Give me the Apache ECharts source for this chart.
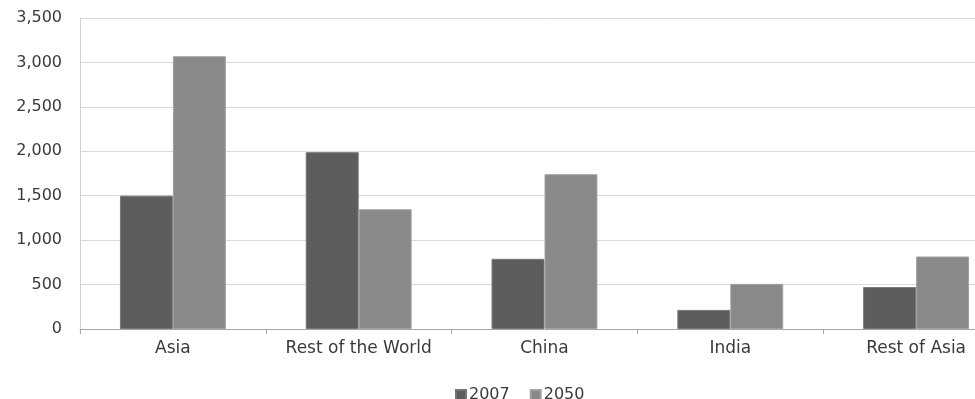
<!DOCTYPE html>
<html>
<head>
<meta charset="utf-8">
<script src="https://cdn.jsdelivr.net/npm/echarts@6/dist/echarts.min.js"></script>
<style>
  html, body { margin: 0; padding: 0; background: #fff; overflow: hidden; }
  /* plot runs past the right edge of the window, as in the reference crop */
  #chart { width: 1009px; height: 399px; }
</style>
</head>
<body>
<div id="chart"></div>
<script>
  const categories = ['Asia', 'Rest of the World', 'China', 'India', 'Rest of Asia'];
  const values2007 = [1500, 1990, 790, 215, 472];
  const values2050 = [3070, 1348, 1742, 508, 816];
  const seriesNames = ['2007', '2050'];

  const chart = echarts.init(document.getElementById('chart'));
  const option = {
    animation: false,
    textStyle: { fontFamily: 'DejaVu Sans', color: '#3a3a3a' },
    grid: { left: 80, right: 0, top: 18, bottom: 70 },
    legend: {
      data: seriesNames,
      left: 450,
      top: 382,
      icon: 'rect',
      itemWidth: 10,
      itemHeight: 10,
      itemGap: 20,
      textStyle: { fontSize: 16, color: '#3a3a3a', padding: [0, 0, 0, -2] }
    },
    xAxis: {
      type: 'category',
      data: categories,
      axisLine: { lineStyle: { color: '#a6a6a6', width: 1 } },
      axisTick: { show: true, interval: 0, length: 5, lineStyle: { color: '#a6a6a6' } },
      axisLabel: { interval: 0, fontSize: 17, color: '#3a3a3a', margin: 11 }
    },
    yAxis: {
      type: 'value',
      min: 0,
      max: 3500,
      interval: 500,
      axisLine: { show: true, lineStyle: { color: '#d0d0d0' } },
      axisTick: { show: false },
      splitLine: { lineStyle: { color: '#d9d9d9', width: 1 } },
      axisLabel: {
        fontSize: 16,
        color: '#3a3a3a',
        margin: 18,
        formatter: v => v.toLocaleString('en-US')
      }
    },
    series: [
      {
        name: seriesNames[0],
        type: 'bar',
        data: values2007,
        barGap: '0%',
        barCategoryGap: '43%',
        itemStyle: { color: '#5d5d5d', borderColor: '#777777', borderWidth: 1 }
      },
      {
        name: seriesNames[1],
        type: 'bar',
        data: values2050,
        itemStyle: { color: '#898989', borderColor: '#a2a2a2', borderWidth: 1 }
      }
    ]
  };
  chart.setOption(option);
</script>
</body>
</html>
